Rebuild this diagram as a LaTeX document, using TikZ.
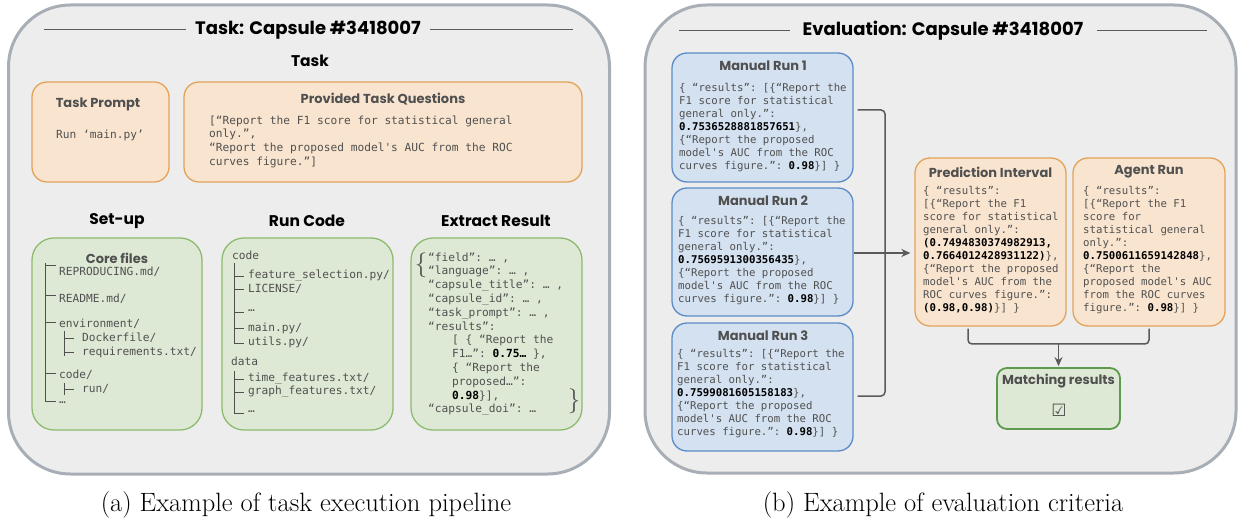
\documentclass[tikz,border=0pt]{standalone}
\usepackage{fontspec}
\setmonofont{DejaVu Sans Mono}
\newfontfamily\hfont{Poppins}
\newfontfamily\symfont{DejaVu Sans}
\usetikzlibrary{arrows.meta,calc}
\definecolor{panelfill}{HTML}{EDEDED}
\definecolor{panelborder}{HTML}{A8AEB5}
\definecolor{orangefill}{HTML}{F9E5CF}
\definecolor{orangeborder}{HTML}{E2A35A}
\definecolor{bluefill}{HTML}{D4E1F0}
\definecolor{blueborder}{HTML}{5B8CC8}
\definecolor{greenfill}{HTML}{DEE9D5}
\definecolor{greenborder}{HTML}{8DBB6F}
\definecolor{darkgreen}{HTML}{5E9A4C}
\definecolor{textgray}{HTML}{505050}
\definecolor{titlegray}{HTML}{505050}
\definecolor{conngray}{HTML}{5A5A5A}
\newcommand\vb[1]{{\color{black}\bfseries #1}}
\tikzset{
  panel/.style={draw=panelborder, fill=panelfill, line width=3pt, rounded corners=62pt},
  obox/.style={draw=orangeborder, fill=orangefill, line width=1.3pt, rounded corners=15pt, inner sep=0pt},
  bbox/.style={draw=blueborder, fill=bluefill, line width=1.3pt, rounded corners=15pt, inner sep=0pt},
  gbox/.style={draw=greenborder, fill=greenfill, line width=1.3pt, rounded corners=22pt, inner sep=0pt},
  mbox/.style={draw=darkgreen, fill=greenfill, line width=1.8pt, rounded corners=10pt, inner sep=0pt},
  htitle/.style={font=\hfont\bfseries\fontsize{18}{20}\selectfont, inner sep=0pt},
  hsec/.style={font=\hfont\bfseries\fontsize{15.5}{18}\selectfont, inner sep=0pt},
  btitle/.style={font=\hfont\bfseries\fontsize{13}{15}\selectfont, text=titlegray, inner sep=0pt},
  ltxt/.style={font=\ttfamily\fontsize{11.2}{13.8}\selectfont, text=textgray, align=left, anchor=north west, inner sep=0pt},
  rtxt/.style={font=\ttfamily\fontsize{10.7}{13}\selectfont, text=textgray, align=left, anchor=north west, inner sep=0pt},
  entry/.style={font=\ttfamily\fontsize{11.2}{13}\selectfont, text=textgray, anchor=west, inner sep=0pt},
  rulel/.style={draw=conngray, line width=1pt},
  treel/.style={draw=textgray, line width=0.9pt},
  conn/.style={draw=conngray, line width=1.5pt, rounded corners=4pt},
  capt/.style={font=\fontsize{26.5}{30}\selectfont, inner sep=0pt}
}
\begin{document}
\begin{tikzpicture}[x=1pt,y=-1pt]
\useasboundingbox (0,0) rectangle (1239,518);
% panels
\draw[panel] (8.5,5) rectangle (609.5,474);
\draw[panel] (645,5) rectangle (1236,473);

% ===== left panel =====
\node[htitle] (t1) at (308,30) {Task: Capsule \#3418007};
\coordinate (t1l) at (44,30);
\coordinate (t1r) at (573,30);
\draw[rulel] (t1l) -- ($(t1.west)+(-9,0)$);
\draw[rulel] ($(t1.east)+(9,0)$) -- (t1r);
\node[hsec] (task) at (310,61) {Task};

\node[obox, minimum width=137pt, minimum height=100pt] (tp) at (100.5,132) {};
\node[btitle] (tpt) at (98,104) {Task Prompt};
\node[entry] (tpx) at (56,135) {Run ‘main.py’};

\node[obox, minimum width=398pt, minimum height=100pt] (pq) at (383,132) {};
\node[btitle] (pqt) at (383,99) {Provided Task Questions};
\node[ltxt] (pqx) at (209,115.3) {[“Report the F1 score for statistical general\\
only.”,\\
“Report the proposed model's AUC from the ROC\\
curves figure.”]};

\node[hsec] (su) at (117,221) {Set-up};
\node[hsec] (rcode) at (307,221) {Run Code};
\node[hsec] (exr) at (496,221) {Extract Result};

\node[gbox, minimum width=170pt, minimum height=192pt] (cf) at (117,334) {};
\node[gbox, minimum width=171pt, minimum height=192pt] (rc) at (307.5,334) {};
\node[gbox, minimum width=171pt, minimum height=192pt] (er) at (496.5,334) {};

% core files
\node[btitle] (cft) at (117,258) {Core files};
\draw[treel] (45,263) -- (45,401) -- (56,401);
\draw[treel] (45,265) -- (56,265);
\draw[treel] (45,295) -- (56,295);
\draw[treel] (45,322) -- (56,322);
\draw[treel] (45,373) -- (56,373);
\node[entry] (e1) at (59,272) {REPRODUCING.md/};
\node[entry] (e2) at (59,299) {README.md/};
\node[entry] (e3) at (59,324) {environment/};
\draw[treel] (64,331) -- (64,356);
\draw[treel] (64,338) -- (74,338);
\draw[treel] (64,352) -- (74,352);
\node[entry] (e4) at (82,338) {Dockerfile/};
\node[entry] (e5) at (82,352) {requirements.txt/};
\node[entry] (e6) at (59,375) {code/};
\draw[treel] (64,383) -- (64,395);
\draw[treel] (64,389) -- (74,389);
\node[entry] (e7) at (82,389) {run/};
\node[entry] (e8) at (59,403) {…};

% run code
\node[entry] (c0) at (232,255) {code};
\draw[treel] (234,263) -- (234,343) -- (244,343);
\draw[treel] (234,276) -- (244,276);
\draw[treel] (234,289) -- (244,289);
\draw[treel] (234,312) -- (244,312);
\draw[treel] (234,328) -- (244,328);
\node[entry] (c1) at (248,276) {feature\_selection.py/};
\node[entry] (c2) at (248,289) {LICENSE/};
\node[entry] (c3) at (248,311) {…};
\node[entry] (c4) at (248,328) {main.py/};
\node[entry] (c5) at (248,342) {utils.py/};
\node[entry] (d0) at (231,361) {data};
\draw[treel] (234,371) -- (234,413) -- (244,413);
\draw[treel] (234,379) -- (244,379);
\draw[treel] (234,392) -- (244,392);
\node[entry] (d1) at (248,379) {time\_features.txt/};
\node[entry] (d2) at (248,392) {graph\_features.txt/};
\node[entry] (d3) at (248,412) {…};

% extract result
\node[ltxt] (erx) at (428,252.3) {“field”: … ,\\
“language”: … ,\\
“capsule\_title”: … ,\\
“capsule\_id”: … ,\\
“task\_prompt”: … ,\\
“results”:\\
\hspace*{24pt}[ \{ “Report the\\
\hspace*{24pt}F1…”: \vb{0.75…} \},\\
\hspace*{24pt}\{ “Report the\\
\hspace*{24pt}proposed…”:\\
\hspace*{24pt}\vb{0.98}\}],\\
“capsule\_doi”: …};
\node[inner sep=0pt, text=textgray, font=\fontsize{25}{25}\selectfont] (lbr) at (421,265) {$\{$};
\node[inner sep=0pt, text=textgray, font=\fontsize{25}{25}\selectfont] (rbr) at (574,401) {$\}$};

% ===== right panel =====
\node[htitle] (t2) at (943,31) {Evaluation: Capsule \#3418007};
\coordinate (t2l) at (679,31);
\coordinate (t2r) at (1207,31);
\draw[rulel] (t2l) -- ($(t2.west)+(-12,0)$);
\draw[rulel] ($(t2.east)+(13,0)$) -- (t2r);

\node[bbox, minimum width=181pt, minimum height=129pt] (mr1) at (762.5,117.5) {};
\node[bbox, minimum width=181pt, minimum height=128pt] (mr2) at (762.5,252) {};
\node[bbox, minimum width=181pt, minimum height=128pt] (mr3) at (762.5,387) {};
\node[btitle] (mr1t) at (763,66) {Manual Run 1};
\node[btitle] (mr2t) at (763,201) {Manual Run 2};
\node[btitle] (mr3t) at (763,336) {Manual Run 3};
\node[rtxt] (mr1x) at (679,83.5) {\{ “results”: [\{“Report the\\
F1 score for statistical\\
general only.”:\\
\vb{0.7536528881857651}\},\\
\{“Report the proposed\\
model's AUC from the ROC\\
curves figure.”: \vb{0.98}\}] \}};
\node[rtxt] (mr2x) at (678,216.5) {\{ “results”: [\{“Report the\\
F1 score for statistical\\
general only.”:\\
\vb{0.7569591300356435}\},\\
\{“Report the proposed\\
model's AUC from the ROC\\
curves figure.”: \vb{0.98}\}] \}};
\node[rtxt] (mr3x) at (677,349.5) {\{ “results”: [\{“Report the\\
F1 score for statistical\\
general only.”:\\
\vb{0.7599081605158183}\},\\
\{“Report the proposed\\
model's AUC from the ROC\\
curves figure.”: \vb{0.98}\}] \}};

\node[obox, minimum width=151pt, minimum height=168pt] (pi) at (990.5,242) {};
\node[obox, minimum width=152pt, minimum height=168pt] (ar) at (1149,242) {};
\node[btitle] (pit) at (990.5,172) {Prediction Interval};
\node[btitle] (art) at (1149,172) {Agent Run};
\node[rtxt] (pix) at (923,186.5) {\{ “results”:\\
{}[\{“Report the F1\\
score for statistical\\
general only.”:\\
\vb{(0.7494830374982913,}\\
\vb{0.7664012428931122)}\},\\
\{“Report the proposed\\
model's AUC from the\\
ROC curves figure.”:\\
\vb{(0.98,0.98)}\}] \}};
\node[rtxt] (arx) at (1083,186.5) {\{ “results”:\\
{}[\{“Report the F1\\
score for\\
statistical general\\
only.”:\\
\vb{0.7500611659142848}\},\\
\{“Report the\\
proposed model's AUC\\
from the ROC curves\\
figure.”: \vb{0.98}\}] \}};

\node[mbox, minimum width=123pt, minimum height=61pt] (mres) at (1058.5,398.5) {};
\node[btitle] (mrest) at (1058.5,381) {Matching results};
\node[inner sep=0pt, text=titlegray, font=\symfont\fontsize{17}{17}\selectfont] (chk) at (1059,410) {☑};

% connectors
\coordinate (jn) at (885,252);
\draw[conn] ($(mr1.east)+(4,-7.5)$) -| (jn) |- ($(mr3.east)+(4,9)$);
\coordinate (a2) at ($(mr2.east)+(0,1)$);
\draw[conn, -{Stealth[length=9pt,width=8pt]}, shorten >=4pt] (a2) -- (a2 -| pi.west);
\coordinate (mj) at (1058.5,344);
\draw[conn] ($(pi.south)+(-22.5,2)$) |- (mj) -| ($(ar.south)+(0,2)$);
\draw[conn, -{Stealth[length=9pt,width=8pt]}, shorten >=1pt] (mj) -- (mres.north);

% captions
\node[capt] (ca) at (306,505) {(a) Example of task execution pipeline};
\node[capt] (cb) at (943,505) {(b) Example of evaluation criteria};
\end{tikzpicture}
\end{document}
